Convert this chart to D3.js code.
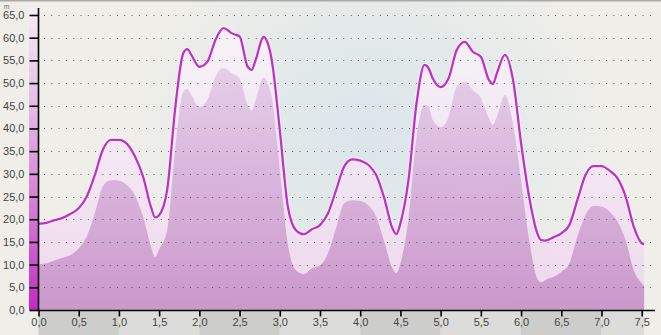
<!DOCTYPE html>
<html>
<head>
<meta charset="utf-8">
<script src="https://cdn.jsdelivr.net/npm/d3@7"></script>
<style>
  html, body { margin: 0; padding: 0; background: #efeee9; }
  svg { display: block; font-family: "Liberation Sans", Arial, sans-serif; }
</style>
</head>
<body>
<div class="vis"></div>
<script>
// x positions of the samples
const xValues = [0, 0.1, 0.2, 0.3, 0.4, 0.5, 0.6, 0.7, 0.8, 0.9, 1.0, 1.1, 1.2, 1.3, 1.4, 1.45, 1.5,
  1.6, 1.7, 1.8, 1.85, 1.9, 2.0, 2.1, 2.2, 2.3, 2.35, 2.4, 2.5, 2.6, 2.65, 2.7, 2.8, 2.85, 2.9,
  3.0, 3.1, 3.2, 3.3, 3.4, 3.5, 3.6, 3.7, 3.8, 3.9, 4.0, 4.1, 4.2, 4.3, 4.4, 4.45, 4.5,
  4.6, 4.7, 4.8, 4.85, 4.9, 5.0, 5.1, 5.2, 5.3, 5.4, 5.5, 5.6, 5.65, 5.7, 5.8, 5.9,
  6.0, 6.1, 6.2, 6.25, 6.3, 6.4, 6.5, 6.6, 6.7, 6.8, 6.9, 7.0, 7.1, 7.2, 7.3, 7.4, 7.5, 7.53];

// upper series (drawn with the line)
const upperValues = [19.0, 19.2, 19.8, 20.3, 21.2, 22.4, 25.0, 29.7, 35.3, 37.5, 37.5, 36.6, 33.8, 29.4, 22.6, 20.4, 20.9,
  26.5, 44.5, 56.6, 57.5, 56.2, 53.6, 54.7, 59.5, 62.1, 61.7, 61.0, 60.3, 53.6, 52.9, 55.1, 60.2, 58.8, 55.1,
  39.7, 22.8, 17.6, 16.7, 17.8, 18.7, 21.3, 26.4, 31.6, 33.2, 32.9, 32.0, 29.7, 24.6, 18.0, 16.7, 19.1,
  28.6, 45.5, 54.0, 53.3, 51.1, 49.1, 51.1, 57.3, 59.1, 56.9, 55.8, 50.7, 49.8, 52.2, 56.2, 50.7,
  36.8, 25.0, 17.0, 15.4, 15.3, 16.0, 16.9, 18.7, 24.2, 29.7, 31.7, 31.7, 30.7, 29.0, 25.0, 18.4, 14.7, 14.5];

// lower series (area only)
const lowerValues = [10.1, 10.3, 10.9, 11.5, 12.1, 13.6, 16.2, 21.3, 27.2, 28.6, 28.5, 27.5, 25.3, 20.6, 13.9, 11.7, 13.4,
  17.5, 35.5, 48.1, 48.7, 47.4, 44.7, 46.3, 51.4, 53.3, 53.0, 52.2, 51.0, 45.2, 43.9, 46.3, 51.3, 50.0, 47.0,
  31.0, 14.5, 8.8, 7.9, 9.2, 9.8, 12.5, 18.0, 23.5, 24.2, 24.0, 23.1, 20.5, 15.0, 9.2, 8.1, 10.3,
  20.0, 38.0, 45.2, 44.8, 41.9, 40.3, 42.6, 49.2, 50.3, 48.5, 46.7, 42.2, 40.8, 42.6, 47.4, 41.1,
  28.6, 15.5, 7.0, 6.1, 6.6, 7.3, 8.4, 10.3, 16.2, 20.9, 22.9, 22.8, 21.7, 19.5, 15.4, 8.8, 5.9, 5.3];

const yTicks = [0, 5, 10, 15, 20, 25, 30, 35, 40, 45, 50, 55, 60, 65];
const xTicks = [0, 0.5, 1, 1.5, 2, 2.5, 3, 3.5, 4, 4.5, 5, 5.5, 6, 6.5, 7, 7.5];
const xBands = [0, 1, 2, 3, 4, 5, 6, 7];
const unitLabel = "m";

const W = 661, H = 335;
const comma = v => d3.format(".1f")(v).replace(".", ",");

const x = d3.scaleLinear().domain([0, 7.5]).range([38.5, 641.7]);
const y = d3.scaleLinear().domain([0, 65]).range([310, 15]);
const xEnd = x(d3.max(xValues));

const data = xValues.map((v, i) => ({x: v, up: upperValues[i], lo: lowerValues[i]}));

const svg = d3.select('.vis').append('svg')
    .attr('width', W)
    .attr('height', H);

const defs = svg.append('defs');

const bg = defs.append('radialGradient').attr('id', 'bg')
    .attr('gradientUnits', 'userSpaceOnUse')
    .attr('cx', 370).attr('cy', 140).attr('r', 240)
    .attr('gradientTransform', 'translate(370,140) scale(1,0.9) translate(-370,-140)');
bg.append('stop').attr('offset', 0).attr('stop-color', '#dbe5ea');
bg.append('stop').attr('offset', 0.55).attr('stop-color', '#e4eae9');
bg.append('stop').attr('offset', 1).attr('stop-color', '#efeee9');

const upGrad = defs.append('linearGradient').attr('id', 'upFill')
    .attr('gradientUnits', 'userSpaceOnUse')
    .attr('x1', 0).attr('y1', 15).attr('x2', 0).attr('y2', 310);
upGrad.append('stop').attr('offset', 0).attr('stop-color', '#fbf6fb').attr('stop-opacity', 0.8);
upGrad.append('stop').attr('offset', 1).attr('stop-color', '#eed4ee').attr('stop-opacity', 0.85);

const loGrad = defs.append('linearGradient').attr('id', 'loFill')
    .attr('gradientUnits', 'userSpaceOnUse')
    .attr('x1', 0).attr('y1', 15).attr('x2', 0).attr('y2', 310);
loGrad.append('stop').attr('offset', 0).attr('stop-color', '#ecd6ea').attr('stop-opacity', 0.85);
loGrad.append('stop').attr('offset', 0.5).attr('stop-color', '#d6b0da').attr('stop-opacity', 0.85);
loGrad.append('stop').attr('offset', 1).attr('stop-color', '#c892c8').attr('stop-opacity', 0.92);

const stripGrad = defs.append('linearGradient').attr('id', 'strip')
    .attr('x1', 0).attr('y1', 0).attr('x2', 0).attr('y2', 1);
stripGrad.append('stop').attr('offset', 0).attr('stop-color', '#f3eef3');
stripGrad.append('stop').attr('offset', 0.35).attr('stop-color', '#e4b6e4');
stripGrad.append('stop').attr('offset', 0.7).attr('stop-color', '#d274d4');
stripGrad.append('stop').attr('offset', 1).attr('stop-color', '#c02cc0');

// background
svg.append('rect').attr('width', W).attr('height', H).attr('fill', '#efeee9');
svg.append('rect').attr('x', 38).attr('y', 0).attr('width', W - 38).attr('height', 310).attr('fill', 'url(#bg)');
svg.append('rect').attr('width', W).attr('height', 1.5).attr('fill', '#a9a9a7');

// x band below axis
svg.append('g').selectAll('rect')
    .data(xBands)
    .join('rect')
    .attr('x', d => x(d))
    .attr('y', 310)
    .attr('width', d => Math.min(x(d + 1), xEnd) - x(d))
    .attr('height', 25)
    .attr('fill', (d, i) => i % 2 === 0 ? '#cdcdcb' : '#dcdcda');

// areas
const areaUp = d3.area()
    .x(d => x(d.x)).y0(y(0)).y1(d => y(d.up))
    .curve(d3.curveMonotoneX);
const areaLo = d3.area()
    .x(d => x(d.x)).y0(y(0)).y1(d => y(d.lo))
    .curve(d3.curveMonotoneX);
const lineUp = d3.line()
    .x(d => x(d.x)).y(d => y(d.up))
    .curve(d3.curveMonotoneX);

svg.append('path').datum(data).attr('d', areaUp).attr('fill', 'url(#upFill)');
svg.append('path').datum(data).attr('d', areaLo).attr('fill', 'url(#loFill)');

// grid (dotted)
svg.append('g').selectAll('line')
    .data(yTicks.filter(d => d > 0))
    .join('line')
    .attr('x1', 44).attr('x2', 657)
    .attr('y1', d => Math.round(y(d)) + 0.5)
    .attr('y2', d => Math.round(y(d)) + 0.5)
    .attr('stroke', '#555')
    .attr('stroke-width', 1)
    .attr('stroke-dasharray', '1,6.3');

// line
svg.append('path').datum(data).attr('d', lineUp)
    .attr('fill', 'none').attr('stroke', '#fff').attr('stroke-opacity', 0.55).attr('stroke-width', 4.5);
svg.append('path').datum(data).attr('d', lineUp)
    .attr('fill', 'none').attr('stroke', '#c131c9').attr('stroke-width', 2.3)
    .attr('stroke-linejoin', 'round');

// y strip + axis
svg.append('rect').attr('x', 29).attr('y', 8).attr('width', 9).attr('height', 302).attr('fill', 'url(#strip)');

const yAxis = svg.append('g')
    .attr('transform', 'translate(38.5,0)')
    .call(d3.axisLeft(y).tickValues(yTicks).tickSize(9).tickPadding(5).tickFormat(comma));
yAxis.select('.domain').attr('d', 'M0,8V310.5').attr('stroke', '#000').attr('stroke-width', 1.6);
yAxis.selectAll('.tick line').attr('stroke', '#000').attr('stroke-width', 1.6);
yAxis.selectAll('.tick text').attr('font-size', 11).attr('fill', '#444')
    .attr('font-family', '"Liberation Sans", Arial, sans-serif');

const xAxis = svg.append('g')
    .attr('transform', 'translate(0,310.5)')
    .call(d3.axisBottom(x).tickValues(xTicks).tickSize(6).tickPadding(2).tickFormat(comma));
xAxis.select('.domain').attr('d', 'M38,0H655').attr('stroke', '#000').attr('stroke-width', 1.6);
xAxis.selectAll('.tick line').attr('stroke', '#000').attr('stroke-width', 1.6);
xAxis.selectAll('.tick text').attr('font-size', 11).attr('fill', '#444')
    .attr('font-family', '"Liberation Sans", Arial, sans-serif');

svg.append('text').attr('x', 4).attr('y', 8.5)
    .attr('font-size', 6.5).attr('fill', '#666').text(unitLabel);
</script>
</body>
</html>
